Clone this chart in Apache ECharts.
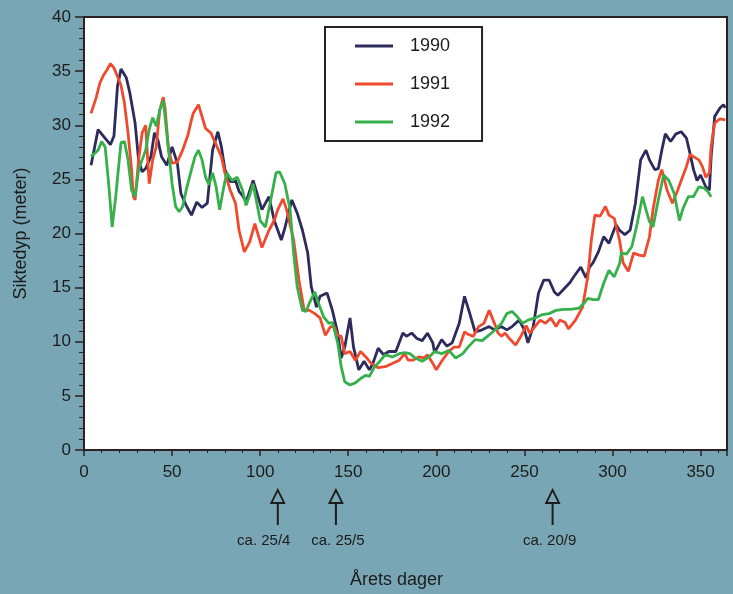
<!DOCTYPE html>
<html><head><meta charset="utf-8">
<script src="https://cdn.jsdelivr.net/npm/echarts/dist/echarts.min.js"></script>
<style>html,body{margin:0;padding:0;background:#79a6b4;}#c{width:733px;height:594px;}</style>
</head><body><div id="c"></div>
<script>
const years = ['1990', '1991', '1992'];

const days1990 = [4,8,11,15,17,19,21,24,26,29,31,33,35,38,40,42,44,47,50,53,55,58,61,64,67,70,73,76,78,80,83,86,88,90,92,96,101,105,108,112,114,118,121,124,127,129,132,134,138,141,144,146,148,151,153,156,159,162,164,167,170,173,177,181,183,186,189,192,195,198,199,203,206,209,213,216,219,222,226,230,233,237,240,243,247,250,252,255,258,261,264,267,269,272,276,278,282,285,287,289,292,295,298,302,304,307,310,313,316,319,321,324,326,328,330,333,336,339,342,344,346,348,350,353,355,356,358,361,363,364];
const depth1990 = [26.3,29.6,29.0,28.2,29.0,33.6,35.2,34.4,33.0,30.2,26.8,25.7,26.0,27.1,29.3,28.6,27.1,26.3,28.0,26.5,23.7,22.6,21.7,22.9,22.4,22.8,27.7,29.4,28.0,25.9,24.8,24.9,23.9,23.5,22.9,24.9,22.2,23.4,21.2,19.4,20.5,23.1,21.9,20.3,18.2,15.1,13.2,14.2,14.5,12.9,10.8,8.5,9.5,12.2,9.5,7.4,8.2,7.4,8.0,9.4,8.8,9.1,9.1,10.8,10.5,10.8,10.3,10.1,10.8,9.9,9.0,10.2,9.6,9.9,11.7,14.2,12.6,10.9,11.1,11.4,11.1,11.4,11.1,11.4,12.0,11.1,9.9,11.4,14.5,15.7,15.7,14.6,14.3,14.8,15.5,16.0,16.9,15.9,16.9,17.3,18.3,19.7,19.1,20.8,20.3,19.9,20.3,22.8,26.8,27.7,26.8,25.9,26.0,27.7,29.2,28.5,29.2,29.4,28.8,27.4,25.9,24.9,25.4,24.3,24.0,27.1,30.8,31.6,31.9,31.6];

const days1991 = [4,7,9,11,13,15,17,19,21,23,25,27,28,29,31,33,35,37,39,41,43,45,46,48,50,53,56,59,61,62,65,67,69,72,75,78,80,83,86,88,91,94,97,101,105,108,110,113,115,119,122,125,128,131,134,137,140,142,144,146,148,151,154,157,160,163,167,171,175,179,182,184,187,190,193,195,198,200,203,207,210,213,216,218,221,224,227,230,233,235,237,239,242,245,248,251,253,256,259,262,265,268,270,273,275,279,283,286,288,290,293,296,298,301,304,306,309,312,315,318,321,323,326,328,331,334,337,339,342,344,346,349,351,353,355,356,358,361,364];
const depth1991 = [31.1,32.6,33.9,34.6,35.1,35.7,35.3,34.5,33.7,32.0,29.3,25.9,23.4,23.1,26.8,29.3,30.0,24.6,26.8,28.0,31.4,32.6,31.6,27.7,26.5,26.6,27.7,29.1,30.5,31.1,31.9,30.8,29.7,29.3,28.2,27.1,25.6,24.0,22.8,20.3,18.3,19.2,20.9,18.7,20.3,21.2,22.2,23.2,22.2,19.4,15.7,12.9,12.9,12.6,12.2,10.6,11.4,11.4,10.6,10.5,8.9,9.1,8.3,9.1,8.6,8.0,7.6,7.7,8.0,8.3,8.9,8.3,8.3,8.6,8.5,8.8,8.0,7.4,8.2,9.1,9.5,9.5,10.9,10.7,10.5,11.4,11.7,12.9,11.7,10.8,10.5,10.8,10.2,9.7,10.5,11.5,10.8,11.4,12.0,11.7,12.2,11.4,12.0,11.8,11.2,12.0,13.2,16.0,19.4,21.7,21.6,22.5,21.7,21.4,19.4,17.3,16.5,18.2,18.0,17.9,19.7,22.2,24.9,25.9,24.0,22.8,24.0,24.9,26.2,27.3,27.1,26.8,26.2,25.2,25.6,28.0,30.2,30.6,30.5];

const days1992 = [4,8,10,12,14,16,18,21,23,25,27,29,31,33,35,37,39,41,43,45,46,48,50,52,54,56,58,61,63,65,67,69,71,73,75,77,79,81,84,87,90,92,94,96,100,103,106,109,111,114,117,119,121,124,126,128,131,133,136,139,141,144,146,148,151,154,157,160,162,165,168,171,175,179,182,185,188,192,196,199,203,207,211,215,218,222,226,229,232,234,237,240,243,246,249,252,256,260,264,268,272,276,281,284,286,289,292,295,298,301,304,305,308,311,314,317,319,321,323,326,329,332,335,338,340,343,346,349,352,354,356];
const depth1992 = [27.1,27.7,28.5,28.0,24.6,20.6,23.4,28.4,28.5,26.8,24.0,23.4,25.9,26.8,27.7,29.6,30.7,29.9,31.4,32.3,30.8,27.7,24.6,22.5,22.0,22.5,24.0,25.9,27.1,27.7,26.8,25.2,24.5,25.6,24.3,22.2,24.0,25.6,24.9,25.2,24.0,22.6,23.5,24.6,21.2,20.6,23.1,25.6,25.7,24.6,22.2,18.2,15.1,12.9,12.8,13.6,14.6,13.6,12.3,11.7,11.8,9.9,7.7,6.3,6.0,6.2,6.6,6.9,6.8,7.7,8.2,8.8,8.6,8.9,9.0,8.9,8.5,8.2,8.6,9.1,8.9,9.2,8.5,8.9,9.5,10.2,10.1,10.5,10.9,11.2,11.7,12.6,12.8,12.3,11.7,12.0,12.2,12.5,12.6,12.9,13.0,13.0,13.1,13.6,14.0,13.9,13.9,15.4,16.6,16.0,17.2,18.2,18.1,18.8,20.9,23.4,22.2,21.1,20.6,23.1,25.4,24.9,23.7,21.2,22.3,23.4,23.4,24.3,24.2,23.9,23.4];

const arrowDays = [110, 143, 266];
const arrowLabels = ['ca. 25/4', 'ca. 25/5', 'ca. 20/9'];
const xName = 'Årets dager';
const yName = 'Siktedyp (meter)';

// layout: horizontal shift of each annotation text relative to its arrow (px)
const labelShift = [-14, 2, -3];

const colors = ['#2c2b5c', '#f04a2e', '#35b04a'];
const zip = (d, v) => d.map((x, i) => [x, v[i]]);
const seriesData = [zip(days1990, depth1990), zip(days1991, depth1991), zip(days1992, depth1992)];

const ink = '#1c1c1c';
const font = 'Liberation Sans, Arial, sans-serif';
const chart = echarts.init(document.getElementById('c'), null, {renderer: 'canvas'});
chart.setOption({
  backgroundColor: '#79a6b4',
  animation: false,
  textStyle: {fontFamily: font},
  grid: {left: 84, right: 6, top: 17, bottom: 144, show: true, backgroundColor: '#ffffff', borderColor: '#2a2222', borderWidth: 2},
  legend: {
    data: years, orient: 'vertical', left: 325, top: 27,
    padding: [10, 32, 10, 30], itemGap: 20,
    icon: 'rect', itemWidth: 38, itemHeight: 3,
    backgroundColor: '#ffffff', borderColor: '#2a2222', borderWidth: 2,
    textStyle: {fontSize: 18, color: ink, padding: [0, 0, 0, 12], fontFamily: font}
  },
  xAxis: {
    type: 'value', min: 0, max: 365, interval: 50,
    name: xName, nameLocation: 'middle', nameGap: 121,
    nameTextStyle: {fontSize: 18, color: ink, padding: [0, 18, 0, 0]},
    axisLine: {show: true, lineStyle: {color: '#2a2222', width: 2}},
    axisTick: {show: true, length: 6, lineStyle: {color: '#2a2222', width: 1.5}},
    minorTick: {show: true, splitNumber: 5, length: 3, lineStyle: {color: '#2a2222', width: 1}},
    splitLine: {show: false},
    axisLabel: {fontSize: 17, color: ink, margin: 14, showMaxLabel: false,
      formatter: v => (v % 50 === 0 ? String(v) : '')}
  },
  yAxis: {
    type: 'value', min: 0, max: 40, interval: 5,
    name: yName, nameLocation: 'middle', nameGap: 54, nameRotate: 90,
    nameTextStyle: {fontSize: 18, color: ink},
    axisLine: {show: true, lineStyle: {color: '#2a2222', width: 2}},
    axisTick: {show: true, length: 9, lineStyle: {color: '#2a2222', width: 1.5}},
    minorTick: {show: true, splitNumber: 5, length: 5, lineStyle: {color: '#2a2222', width: 1}},
    splitLine: {show: false},
    axisLabel: {fontSize: 17, color: ink, margin: 13}
  },
  series: years.map((y, i) => ({
    name: y, type: 'line', data: seriesData[i], symbol: 'none',
    lineStyle: {color: colors[i], width: 2.8}, itemStyle: {color: colors[i]}, z: 2 + i
  }))
});

const graphics = [];
arrowDays.forEach((d, i) => {
  const x = chart.convertToPixel({xAxisIndex: 0}, d);
  graphics.push({type: 'polygon', shape: {points: [[x, 490], [x - 6.5, 503], [x + 6.5, 503]]},
    style: {fill: 'none', stroke: ink, lineWidth: 1.8}});
  graphics.push({type: 'line', shape: {x1: x, y1: 503, x2: x, y2: 525}, style: {stroke: ink, lineWidth: 2}});
  graphics.push({type: 'text', x: x + labelShift[i], y: 541, style: {text: arrowLabels[i], fill: ink, fontSize: 15,
    fontFamily: font, align: 'center', verticalAlign: 'middle'}});
});
chart.setOption({graphic: graphics});
</script></body></html>
